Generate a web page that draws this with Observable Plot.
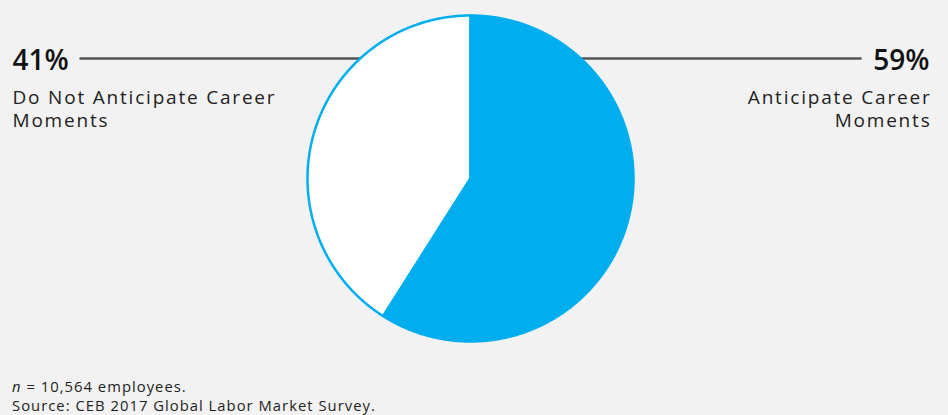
<!DOCTYPE html>
<html><head><meta charset="utf-8">
<script src="https://cdn.jsdelivr.net/npm/d3@7"></script>
<script src="https://cdn.jsdelivr.net/npm/@observablehq/plot@0.6"></script>
<style>
html,body{margin:0;padding:0;background:#f2f2f2;}
#chart{width:948px;height:415px;position:relative;overflow:hidden;background:#f2f2f2;}
#chart svg{display:block;background:#f2f2f2;}
.caption{position:absolute;left:12px;top:377px;font-family:"Open Sans",sans-serif;font-weight:400;font-size:14.8px;letter-spacing:1.02px;line-height:19px;color:#222;white-space:nowrap;}
</style></head><body>
<div id="chart"></div>
<script>
// Data
const categories = ["Anticipate Career Moments", "Do Not Anticipate Career Moments"];
const shares = [59, 41];
const percentLabels = ["59%", "41%"];
const wrappedLabels = ["Anticipate Career\nMoments", "Do Not Anticipate Career\nMoments"];
const sliceFills = ["#00AEEF", "#ffffff"];
const captionNote = "= 10,564 employees.";
const captionSource = "Source: CEB 2017 Global Labor Market Survey.";

// Layout
const W = 948, H = 370;
const cx = 470, cy = 178, r = 163;
const blue = "#00AEEF";
const lineY = 58;

const arcs = d3.pie().sort(null).value(d => d)(shares);
const slicePts = [];
arcs.forEach((a, i) => {
  slicePts.push({k: i, x: cx, y: cy});
  const n = Math.max(2, Math.ceil((a.endAngle - a.startAngle) / 0.005));
  for (let j = 0; j <= n; j++) {
    const t = a.startAngle + (a.endAngle - a.startAngle) * j / n;
    slicePts.push({k: i, x: cx + r * Math.sin(t), y: cy - r * Math.cos(t)});
  }
});
const drawOrder = [1, 0];

const connectors = [
  {k: 1, x: 80, y: lineY}, {k: 1, x: cx, y: lineY},
  {k: 0, x: cx, y: lineY}, {k: 0, x: 860, y: lineY}
];

const labelPos = [
  {x: 929, anchor: "end"},
  {x: 12, anchor: "start"}
];
const pctData = shares.map((s, i) => ({label: percentLabels[i], x: labelPos[i].x, anchor: labelPos[i].anchor, y: 69}));
const txtData = shares.map((s, i) => ({label: wrappedLabels[i], x: labelPos[i].x + (labelPos[i].anchor === "end" ? 2 : 0), anchor: labelPos[i].anchor, y: 86}));

const marks = [
  Plot.line(connectors, {x: "x", y: "y", z: "k", stroke: "#555", strokeWidth: 2.5})
];
drawOrder.forEach(i => {
  marks.push(Plot.line(slicePts.filter(d => d.k === i), {
    x: "x", y: "y", curve: "linear-closed",
    fill: sliceFills[i], stroke: blue, strokeWidth: 2.5, strokeLinejoin: "round"
  }));
});
["start", "end"].forEach(anc => {
  marks.push(Plot.text(pctData.filter(d => d.anchor === anc), {
    x: "x", y: "y", text: "label", textAnchor: anc, lineAnchor: "bottom",
    fontSize: 28, fontWeight: 600, fill: "#111", fontFamily: "Open Sans"
  }));
  marks.push(Plot.text(txtData.filter(d => d.anchor === anc), {
    x: "x", y: "y", text: "label", textAnchor: anc, lineAnchor: "top",
    fontSize: 19, fontWeight: 400, fill: "#222", fontFamily: "Open Sans", lineHeight: 1.26
  }));
});

const plot = Plot.plot({
  width: W, height: H,
  margin: 0,
  x: {domain: [0, W], range: [0, W], axis: null},
  y: {domain: [0, H], range: [0, H], axis: null},
  style: {background: "#f2f2f2", overflow: "visible"},
  marks
});
// widen lettering to approximate the geometric typeface of the original
plot.querySelectorAll("g[aria-label='text']").forEach(g => {
  const fs = +g.getAttribute("font-size");
  if (fs < 25) g.style.letterSpacing = "1.8px";
});
const chart = document.getElementById("chart");
chart.appendChild(plot);
const cap = document.createElement("div");
cap.className = "caption";
cap.innerHTML = "<i>n</i> " + captionNote + "<br>" + captionSource;
chart.appendChild(cap);
</script>
</body></html>
